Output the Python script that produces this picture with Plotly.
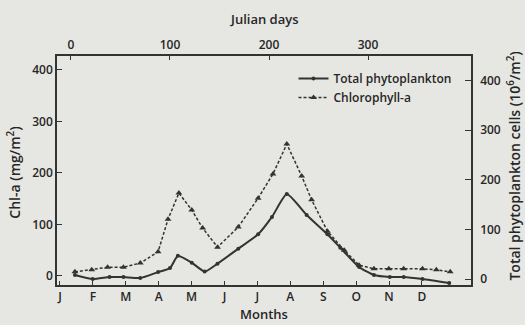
import plotly.graph_objects as go

# Seasonal cycle: chlorophyll-a (left axis) and total phytoplankton cells (right axis)
chl_days = [4, 21, 37, 53, 70, 88, 98, 109, 122, 133, 148, 169, 189, 204,
            218, 233, 243, 259, 276, 291, 306, 321, 336, 355, 369, 383]
chl_vals = [8, 12, 17, 17, 25, 47, 110, 161, 128, 93, 56, 95, 151, 198,
            256, 194, 148, 87, 50, 21, 14, 14, 14, 14, 12, 8]

phyto_days = [4, 22, 39, 53, 70, 88, 100, 108, 122, 135, 148, 169, 189, 203,
              218, 238, 259, 272, 291, 306, 322, 336, 355, 382]
phyto_vals = [8, 0, 4, 4, 2, 14, 22, 47, 33, 15, 31, 61, 90, 125,
              171, 129, 90, 63, 24, 8, 4, 4, 0, -8]

month_labels = ["J", "F", "M", "A", "M", "J", "J", "A", "S", "O", "N", "D"]
julian_ticks = [0, 100, 200, 300]
left_ticks = [0, 100, 200, 300, 400]
right_ticks = [0, 100, 200, 300, 400]

INK = "#333333"
TXT = "#262626"
BG = "#e6e6e2"
FONT = "Open Sans"

fig = go.Figure()

# empty month-indexed trace so the bottom month axis is drawn
fig.add_trace(go.Scatter(
    x=list(range(len(month_labels))), y=[None] * len(month_labels),
    xaxis="x", yaxis="y", mode="lines", showlegend=False, hoverinfo="skip",
))

fig.add_trace(go.Scatter(
    x=phyto_days, y=phyto_vals, name="Total phytoplankton",
    xaxis="x2", yaxis="y2", mode="lines+markers",
    line=dict(color=INK, width=2, shape="spline", smoothing=0.5),
    marker=dict(symbol="circle", size=4, color=INK),
))
fig.add_trace(go.Scatter(
    x=chl_days, y=chl_vals, name="Chlorophyll-a",
    xaxis="x2", yaxis="y", mode="lines+markers",
    line=dict(color=INK, width=1.5, dash="3px,2px"),
    marker=dict(symbol="triangle-up", size=6, color=INK),
))

tick_font = dict(family=FONT, size=12, color=TXT, weight=600)

fig.update_layout(
    width=525, height=325,
    margin=dict(l=57, r=54, t=56, b=40),
    paper_bgcolor=BG, plot_bgcolor=BG,
    font=dict(family=FONT, color=TXT),
    showlegend=True,
    legend=dict(
        x=0.965, y=0.965, xanchor="right", yanchor="top",
        bgcolor="rgba(0,0,0,0)", borderwidth=0,
        font=dict(family=FONT, size=12, color=TXT, weight=600),
        itemwidth=30, tracegroupgap=0,
    ),
    xaxis=dict(
        range=[-0.09, 12.49], tickmode="array",
        tickvals=list(range(len(month_labels))), ticktext=month_labels,
        ticks="inside", ticklen=4, tickcolor=INK, tickwidth=1,
        showline=True, linecolor=INK, linewidth=1.5,
        showgrid=False, zeroline=False, tickfont=tick_font,
    ),
    xaxis2=dict(
        overlaying="x", side="top", range=[-14.1, 404.0],
        tickmode="array", tickvals=julian_ticks,
        ticks="inside", ticklen=4, tickcolor=INK, tickwidth=1,
        showline=True, linecolor=INK, linewidth=1.5,
        showgrid=False, zeroline=False, tickfont=tick_font,
    ),
    yaxis=dict(
        range=[-17.5, 427], tickmode="array", tickvals=left_ticks,
        ticks="inside", ticklen=5, tickcolor=INK, tickwidth=1,
        showline=True, linecolor=INK, linewidth=1.5,
        showgrid=False, zeroline=False, tickfont=tick_font,
    ),
    yaxis2=dict(
        overlaying="y", side="right", range=[-12, 449],
        tickmode="array", tickvals=right_ticks,
        ticks="inside", ticklen=6, tickcolor=INK, tickwidth=1,
        showline=True, linecolor=INK, linewidth=1.5,
        showgrid=False, zeroline=False, tickfont=tick_font,
        ticklabelstandoff=5,
    ),
)

title_font = dict(family=FONT, size=13, color=TXT, weight=600)
side_title_font = dict(family=FONT, size=14, color=TXT, weight=600)
fig.add_annotation(text="Julian days", xref="paper", yref="paper",
                   x=0.5, y=1.162, xanchor="center", yanchor="middle",
                   showarrow=False, font=title_font)
fig.add_annotation(text="Months", xref="paper", yref="paper",
                   x=0.5, y=-0.128, xanchor="center", yanchor="middle",
                   showarrow=False, font=title_font)
fig.add_annotation(text="Chl-a (mg/m<sup>2</sup>)", xref="paper", yref="paper",
                   x=-0.104, y=0.49, xanchor="center", yanchor="middle",
                   textangle=-90, showarrow=False, font=side_title_font)
fig.add_annotation(text="Total phytoplankton cells (10<sup>6</sup>/m<sup>2</sup>)",
                   xref="paper", yref="paper",
                   x=1.103, y=0.52, xanchor="center", yanchor="middle",
                   textangle=-90, showarrow=False, font=side_title_font)

fig.write_html("out.html")
